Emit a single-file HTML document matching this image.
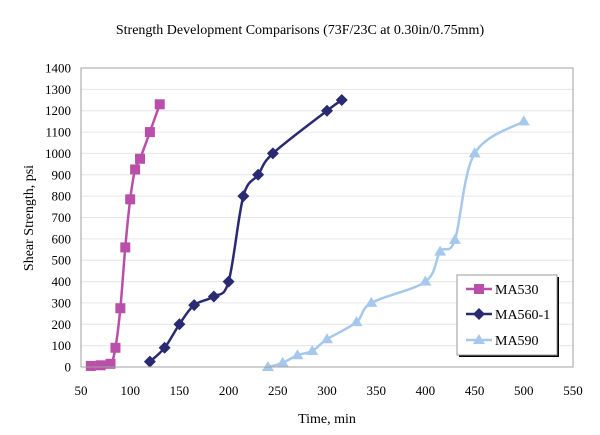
<!DOCTYPE html><html><head><style>body{margin:0;background:#fff}svg{display:block;font-family:"Liberation Serif",serif}</style></head><body>
<svg id="s" width="600" height="435" xmlns="http://www.w3.org/2000/svg">
<text x="300" y="34" font-size="14" text-anchor="middle">Strength Development Comparisons (73F/23C at 0.30in/0.75mm)</text>
<g id="g"></g>
<rect x="81" y="68" width="492" height="299" fill="none" stroke="#a0a0a0"/>
<text transform="translate(33,218) rotate(-90)" font-size="14" text-anchor="middle">Shear Strength, psi</text>
<text x="327" y="423" font-size="14" text-anchor="middle">Time, min</text>
<rect x="459" y="277" width="100" height="80" fill="#000"/>
<rect x="457" y="275" width="100" height="80" fill="#fff" stroke="#999"/>
<g font-size="14">
<line x1="466" y1="289" x2="492" y2="289" stroke="#b94fa8" stroke-width="2.5"/><rect x="474" y="284" width="10" height="10" fill="#b94fa8"/><text x="495" y="294">MA530</text>
<line x1="466" y1="314" x2="492" y2="314" stroke="#2a2a72" stroke-width="2.5"/><path d="M479 308l6 6-6 6-6-6z" fill="#2a2a72"/><text x="495" y="319">MA560-1</text>
<line x1="466" y1="340" x2="492" y2="340" stroke="#a6c8ec" stroke-width="2.5"/><path d="M479 334l6 10h-12z" fill="#a6c8ec"/><text x="495" y="345">MA590</text>
</g>
</svg>
<script>
const g=document.getElementById('g');let h='';
const X=v=>81+(v-50)*492/500,Y=v=>367-v*299/1400;
for(let v=0;v<=1400;v+=100){h+=`<line x1="81" x2="573" y1="${Y(v)}" y2="${Y(v)}" stroke="#e6e6e6"/>`;h+=`<text x="71" y="${Y(v)+4.5}" font-size="13" text-anchor="end">${v}</text>`;}
for(let v=50;v<=550;v+=50){h+=`<text x="${X(v)}" y="395" font-size="13" text-anchor="middle">${v}</text>`;}
function path(p){let d=`M${X(p[0][0])},${Y(p[0][1])}`;const P=p.map(a=>[X(a[0]),Y(a[1])]);
for(let i=0;i<P.length-1;i++){const p0=P[i-1]||P[i],p1=P[i],p2=P[i+1],p3=P[i+2]||p2;const t=0.25;
d+=`C${p1[0]+(p2[0]-p0[0])*t/1.5},${p1[1]+(p2[1]-p0[1])*t/1.5} ${p2[0]-(p3[0]-p1[0])*t/1.5},${p2[1]-(p3[1]-p1[1])*t/1.5} ${p2[0]},${p2[1]}`;}return d;}
const S=[
{c:'#b94fa8',m:'s',d:[[60,5],[70,8],[80,15],[85,90],[90,275],[95,560],[100,785],[105,925],[110,975],[120,1100],[130,1230]]},
{c:'#2a2a72',m:'d',d:[[120,25],[135,90],[150,200],[165,290],[185,330],[200,400],[215,800],[230,900],[245,1000],[300,1200],[315,1250]]},
{c:'#a6c8ec',m:'t',d:[[240,0],[255,20],[270,55],[285,75],[300,130],[330,210],[345,300],[400,400],[415,540],[430,595],[450,1000],[500,1150]]}];
for(const s of S){h+=`<path d="${path(s.d)}" fill="none" stroke="${s.c}" stroke-width="2.5"/>`;
for(const [a,b] of s.d){const x=X(a),y=Y(b);
if(s.m=='s')h+=`<rect x="${x-5}" y="${y-5}" width="10" height="10" fill="${s.c}"/>`;
else if(s.m=='d')h+=`<path d="M${x} ${y-6}l6 6-6 6-6-6z" fill="${s.c}"/>`;
else h+=`<path d="M${x} ${y-6}l6 10h-12z" fill="${s.c}"/>`;}}
g.innerHTML=h;
</script></body></html>
